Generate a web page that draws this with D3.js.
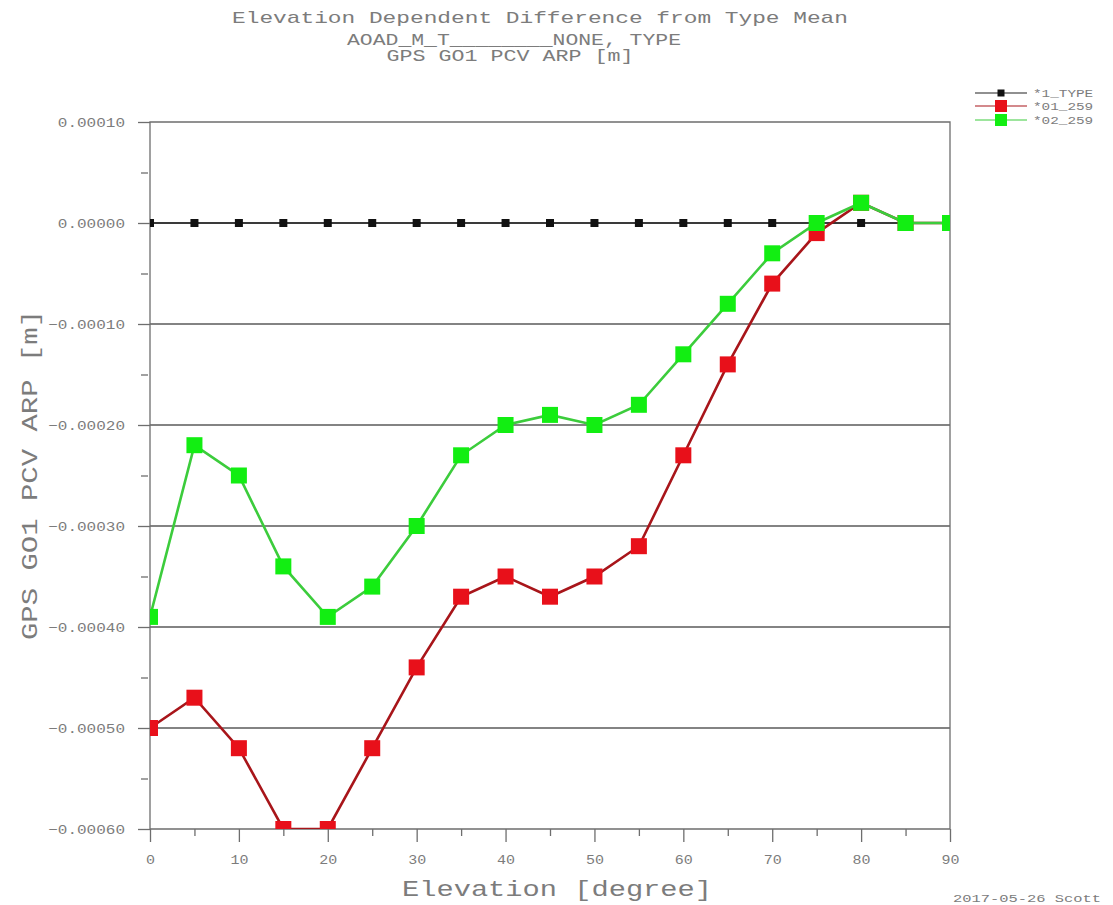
<!DOCTYPE html>
<html>
<head>
<meta charset="utf-8">
<script src="https://cdn.jsdelivr.net/npm/d3@7"></script>
<style>
  html, body { margin: 0; padding: 0; background: #fff; }
  svg { display: block; }
  text { font-family: "Liberation Mono", "DejaVu Sans Mono", monospace; fill: #7c7c7c; }
</style>
</head>
<body>
<svg id="chart" width="1113" height="905"></svg>
<script>
// Elevation angles (degrees)
const elevations = [0, 5, 10, 15, 20, 25, 30, 35, 40, 45, 50, 55, 60, 65, 70, 75, 80, 85, 90];

// Differences from type mean [m]
const typeMean = [0, 0, 0, 0, 0, 0, 0, 0, 0, 0, 0, 0, 0, 0, 0, 0, 0, 0, 0];
const ant01 = [-0.00050, -0.00047, -0.00052, -0.00060, -0.00060, -0.00052, -0.00044, -0.00037, -0.00035,
               -0.00037, -0.00035, -0.00032, -0.00023, -0.00014, -0.00006, -0.00001, 0.00002, 0.00000, 0.00000];
const ant02 = [-0.00039, -0.00022, -0.00025, -0.00034, -0.00039, -0.00036, -0.00030, -0.00023, -0.00020,
               -0.00019, -0.00020, -0.00018, -0.00013, -0.00008, -0.00003, 0.00000, 0.00002, 0.00000, 0.00000];

const seriesNames = ["*1_TYPE", "*01_259", "*02_259"];

// Axis ticks
const xMajorTicks = [0, 10, 20, 30, 40, 50, 60, 70, 80, 90];
const xMinorTicks = [5, 15, 25, 35, 45, 55, 65, 75, 85];
const yMajorTicks = [0.00010, 0.00000, -0.00010, -0.00020, -0.00030, -0.00040, -0.00050, -0.00060];
const yMinorTicks = [0.00005, -0.00005, -0.00015, -0.00025, -0.00035, -0.00045, -0.00055];

const titleLines = [
  "Elevation Dependent Difference from Type Mean",
  "AOAD_M_T________NONE, TYPE",
  "GPS GO1 PCV ARP [m]"
];
const xTitle = "Elevation [degree]";
const yTitle = "GPS GO1 PCV ARP [m]";
const footer = "2017-05-26 Scott";

const svg = d3.select("#chart");
const L = 150, R = 950, T = 122, B = 829;

const x = d3.scaleLinear().domain([0, 90]).range([L, R]);
const y = d3.scaleLinear().domain([-0.0006, 0.0001]).range([B, T]);

const axisColor = "#6e6e6e";
const fmt = d3.format(".5f");

// Titles (stroke-font look: wide, thin glyphs)
const titleSpecs = [
  { cx: 540, by: 23, size: 17, len: 616 },
  { cx: 514, by: 45, size: 16, len: 334 },
  { cx: 510, by: 61, size: 16, len: 247 }
];
titleLines.forEach((t, i) => {
  const s = titleSpecs[i];
  svg.append("text")
    .attr("x", s.cx).attr("y", s.by)
    .attr("text-anchor", "middle")
    .attr("font-size", s.size)
    .attr("textLength", s.len)
    .attr("lengthAdjust", "spacingAndGlyphs")
    .text(t);
});

// Horizontal grid lines
svg.append("g")
  .selectAll("line")
  .data(yMajorTicks.filter(v => v < 0.0001 && v > -0.0006))
  .join("line")
  .attr("x1", L).attr("x2", R)
  .attr("y1", d => y(d)).attr("y2", d => y(d))
  .attr("stroke", "#5a5a5a").attr("stroke-width", 1.3);

// Frame
svg.append("path")
  .attr("d", `M${L},${B}V${T}H${R}V${B}H${L}`)
  .attr("fill", "none").attr("stroke", axisColor).attr("stroke-width", 1.3);

// Y axis: major ticks with labels, minor ticks without
const yAxis = svg.append("g").attr("transform", `translate(${L},0)`)
  .call(d3.axisLeft(y).tickValues(yMajorTicks).tickSize(12).tickPadding(13).tickFormat(fmt));
yAxis.select(".domain").remove();
yAxis.selectAll("line").attr("stroke", axisColor).attr("stroke-width", 1.3);
yAxis.selectAll("text")
  .attr("font-size", 13)
  .attr("fill", "#7c7c7c")
  .attr("textLength", d => fmt(d).length * 9.6)
  .attr("lengthAdjust", "spacingAndGlyphs");

const yMinor = svg.append("g").attr("transform", `translate(${L - 2},0)`)
  .call(d3.axisLeft(y).tickValues(yMinorTicks).tickSize(7).tickFormat(""));
yMinor.select(".domain").remove();
yMinor.selectAll("line").attr("stroke", axisColor).attr("stroke-width", 1.3);

// X axis
const xAxis = svg.append("g").attr("transform", `translate(0,${B})`)
  .call(d3.axisBottom(x).tickValues(xMajorTicks).tickSize(13).tickPadding(13).tickFormat(d3.format("d")));
xAxis.select(".domain").remove();
xAxis.selectAll("line").attr("stroke", axisColor).attr("stroke-width", 1.3);
xAxis.selectAll("text")
  .attr("font-size", 12)
  .attr("fill", "#7c7c7c")
  .attr("textLength", d => String(d).length * 9)
  .attr("lengthAdjust", "spacingAndGlyphs");

const xMinor = svg.append("g").attr("transform", `translate(0,${B})`)
  .call(d3.axisBottom(x).tickValues(xMinorTicks).tickSize(7).tickFormat(""));
xMinor.select(".domain").remove();
xMinor.selectAll("line").attr("stroke", axisColor).attr("stroke-width", 1.3);

// Axis titles
svg.append("text")
  .attr("x", 557).attr("y", 896)
  .attr("text-anchor", "middle")
  .attr("font-size", 22)
  .attr("textLength", 310)
  .attr("lengthAdjust", "spacingAndGlyphs")
  .attr("fill", "#8a8a8a")
  .text(xTitle);

svg.append("text")
  .attr("transform", "translate(37,475) rotate(-90)")
  .attr("text-anchor", "middle")
  .attr("font-size", 22)
  .attr("textLength", 330)
  .attr("lengthAdjust", "spacingAndGlyphs")
  .attr("fill", "#8a8a8a")
  .text(yTitle);

// Footer
svg.append("text")
  .attr("x", 953).attr("y", 902)
  .attr("font-size", 11)
  .attr("textLength", 148)
  .attr("lengthAdjust", "spacingAndGlyphs")
  .attr("fill", "#7c7c7c")
  .text(footer);

// Data series, clipped to the plot frame
svg.append("clipPath").attr("id", "plotClip")
  .append("rect").attr("x", L).attr("y", T).attr("width", R - L).attr("height", B - T);

const plot = svg.append("g").attr("clip-path", "url(#plotClip)");

const series = [
  { name: seriesNames[0], values: typeMean, line: "#222222", lw: 1.5, marker: "#111111", ms: 8 },
  { name: seriesNames[1], values: ant01, line: "#a8151a", lw: 2.6, marker: "#e8101a", ms: 16 },
  { name: seriesNames[2], values: ant02, line: "#3ccc3c", lw: 2.6, marker: "#12ee12", ms: 16 }
];

const lineGen = d3.line().x(d => x(d[0])).y(d => y(d[1]));

series.forEach(s => {
  const pts = elevations.map((e, i) => [e, s.values[i]]);
  plot.append("path")
    .datum(pts)
    .attr("d", lineGen)
    .attr("fill", "none")
    .attr("stroke", s.line)
    .attr("stroke-width", s.lw);
  plot.append("g")
    .selectAll("rect")
    .data(pts)
    .join("rect")
    .attr("x", d => x(d[0]) - s.ms / 2)
    .attr("y", d => y(d[1]) - s.ms / 2)
    .attr("width", s.ms)
    .attr("height", s.ms)
    .attr("fill", s.marker);
});

// Legend
const legendRows = [93, 106, 120];
const legend = svg.append("g");
series.forEach((s, i) => {
  const ly = legendRows[i];
  legend.append("line")
    .attr("x1", 975).attr("x2", 1027)
    .attr("y1", ly).attr("y2", ly)
    .attr("stroke", s.line).attr("stroke-width", 1.2);
  const ms = i === 0 ? 7 : 12;
  legend.append("rect")
    .attr("x", 1001 - ms / 2).attr("y", ly - ms / 2)
    .attr("width", ms).attr("height", ms)
    .attr("fill", s.marker);
  legend.append("text")
    .attr("x", 1033).attr("y", ly + 4)
    .attr("font-size", 11)
    .attr("textLength", s.name.length * 8.6)
    .attr("lengthAdjust", "spacingAndGlyphs")
    .attr("fill", "#7c7c7c")
    .text(s.name);
});
</script>
</body>
</html>
